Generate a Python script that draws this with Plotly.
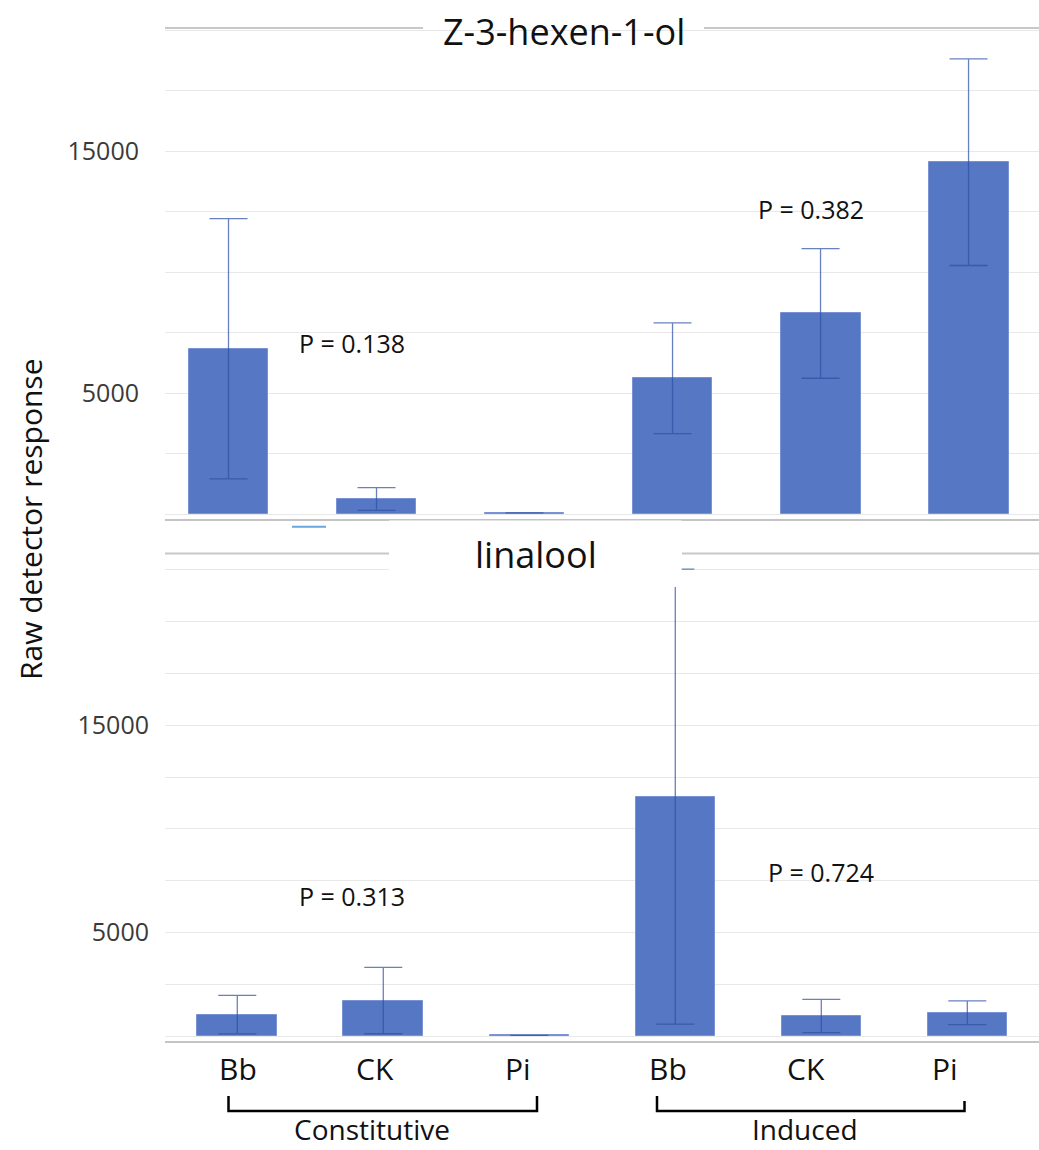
import plotly.graph_objects as go

# ---------------- data ----------------
categories = ["Bb", "CK", "Pi", "Bb", "CK", "Pi"]
groups = ["Constitutive", "Induced"]

hexenol_mean = [6840, 630, 50, 5620, 8300, 14550]
hexenol_err = [5380, 470, None, 2290, 2680, 4270]

linalool_mean = [1030, 1710, 30, 11550, 965, 1125]
linalool_err = [930, 1600, None, 10980, 800, 575]

hexenol_p = ["P = 0.138", "P = 0.382"]
linalool_p = ["P = 0.313", "P = 0.724"]

ytick_vals = [0, 2500, 5000, 7500, 10000, 12500, 15000, 17500, 20000, 22500]
ytick_text = ["", "", "5000", "", "", "", "15000", "", "", ""]

titles = ["Z-3-hexen-1-ol", "linalool"]
y_title = "Raw detector response"

# ---------------- layout helpers ----------------
W, H = 1039, 1150
FONT = "Open Sans"
BAR = "#5677C3"
ERR = "rgba(45,80,165,0.72)"
GRID = "#e8e8e8"


def px(x):
    return x / W


def py(y):
    return 1 - y / H


fig = go.Figure()
xs = list(range(len(categories)))

fig.add_trace(go.Bar(
    x=xs, y=hexenol_mean, width=0.54, marker=dict(color=BAR, line=dict(color="#7892d4", width=1)),
    error_y=dict(type="data", array=hexenol_err, color=ERR, thickness=1.3, width=19),
    xaxis="x", yaxis="y", showlegend=False))
fig.add_trace(go.Bar(
    x=xs, y=linalool_mean, width=0.545, marker=dict(color=BAR, line=dict(color="#7892d4", width=1)),
    error_y=dict(type="data", array=linalool_err, color=ERR, thickness=1.3, width=19),
    xaxis="x2", yaxis="y2", showlegend=False))

common_y = dict(tickmode="array", tickvals=ytick_vals, ticktext=ytick_text,
                showgrid=True, gridcolor=GRID, gridwidth=1, zeroline=True,
                zerolinecolor=GRID, zerolinewidth=1, ticks="", showline=False,
                tickfont=dict(family=FONT, size=25, color="#3a3a3a"))

fig.update_layout(
    width=W, height=H, margin=dict(l=0, r=0, t=0, b=0),
    paper_bgcolor="white", plot_bgcolor="white", bargap=0,
    xaxis=dict(domain=[px(165), 1.0], range=[-0.429, 5.476], showticklabels=False,
               showgrid=False, zeroline=False, showline=True, linecolor="#c4c4c4",
               linewidth=1.5, ticks="", anchor="y"),
    yaxis=dict(domain=[py(519), py(28)], range=[-200, 20100], anchor="x",
               ticklabelstandoff=25, **common_y),
    xaxis2=dict(domain=[px(165), 1.0], range=[-0.495, 5.491], showticklabels=False,
                showgrid=False, zeroline=False, showline=True, linecolor="#c4c4c4",
                linewidth=1.5, ticks="", anchor="y2"),
    yaxis2=dict(domain=[py(1041), py(566)], range=[-241, 22683], anchor="x2",
                ticklabelstandoff=15, **common_y),
)

shapes = []
# title rules
for (x0, x1, y) in [(165, 423, 28), (704, 1039, 28), (165, 389, 553.5), (682, 1039, 553.5)]:
    shapes.append(dict(type="line", xref="paper", yref="paper", x0=px(x0), x1=px(x1),
                       y0=py(y), y1=py(y), line=dict(color="#c8c8c8", width=2), layer="above"))
# white title box of lower chart
shapes.append(dict(type="rect", xref="paper", yref="paper", x0=px(389), x1=px(681.7),
                   y0=py(587), y1=py(520.5), fillcolor="white", line=dict(width=0), layer="above"))
# stray legend fragment
shapes.append(dict(type="line", xref="paper", yref="paper", x0=px(292), x1=px(326),
                   y0=py(526.7), y1=py(526.7), line=dict(color="#6aa6dc", width=2), layer="above"))
# group brackets
for (xl, xr, yl, yr) in [(228.5, 537, 1096, 1096), (657, 964.5, 1096, 1101)]:
    path = (f"M {px(xl)},{py(yl)} L {px(xl)},{py(1111)} L {px(xr)},{py(1111)} L {px(xr)},{py(yr)}")
    shapes.append(dict(type="path", xref="paper", yref="paper", path=path,
                       line=dict(color="black", width=2.5), layer="above"))
fig.update_layout(shapes=shapes)

C = dict(xanchor="center", yanchor="middle", showarrow=False)
ann = []
ann.append(dict(text=titles[0], x=px(563.5), y=py(31), xref="paper", yref="paper",
                font=dict(family=FONT, size=36, color="#111"), **C))
ann.append(dict(text=titles[1], x=px(536), y=py(554), xref="paper", yref="paper",
                font=dict(family=FONT, size=36, color="#111"), **C))
ann.append(dict(text=y_title, x=px(30), y=py(520), xref="paper", yref="paper", textangle=-90,
                font=dict(family=FONT, size=30, color="#111"), **C))
# p-values
for text, (x, y) in zip(hexenol_p, [(352, 343), (811, 209)]):
    ann.append(dict(text=text, x=px(x), y=py(y), xref="paper", yref="paper",
                    font=dict(family=FONT, size=25, color="#111"), **C))
for text, (x, y) in zip(linalool_p, [(352, 896), (821, 872)]):
    ann.append(dict(text=text, x=px(x), y=py(y), xref="paper", yref="paper",
                    font=dict(family=FONT, size=25, color="#111"), **C))
# category labels (shifted slightly as in the source)
label_shift = [1, -8, -11, -7, -15, -22]
for i, (c, s) in enumerate(zip(categories, label_shift)):
    ann.append(dict(text=c, x=i, y=py(1068), xref="x2", yref="paper", xshift=s,
                    font=dict(family=FONT, size=30, color="#111"), **C))
for text, x in zip(groups, [372, 805]):
    ann.append(dict(text=text, x=px(x), y=py(1129), xref="paper", yref="paper",
                    font=dict(family=FONT, size=28, color="#111"), **C))
fig.update_layout(annotations=ann)

fig.write_html("out.html")
